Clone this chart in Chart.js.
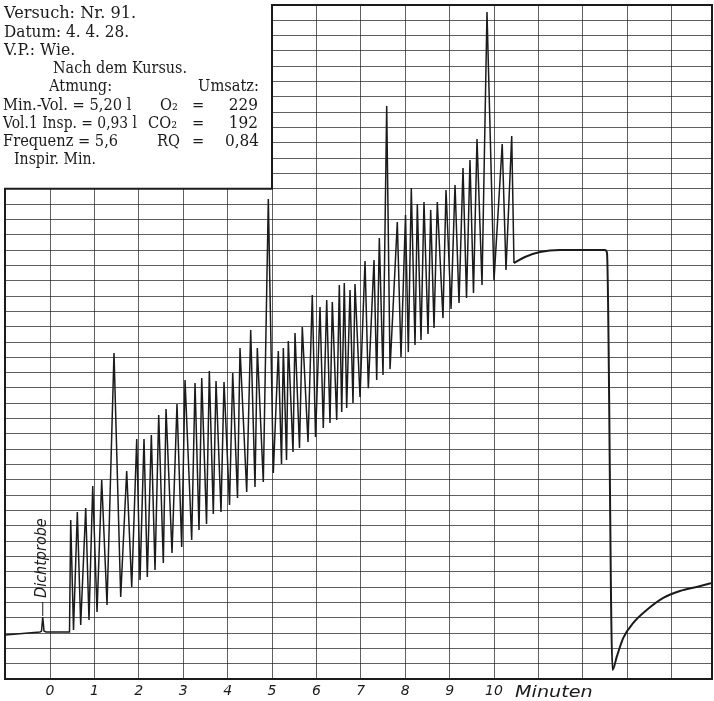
<!DOCTYPE html>
<html>
<head>
<meta charset="utf-8">
<script src="https://cdn.jsdelivr.net/npm/chart.js@4/dist/chart.umd.min.js"></script>
<style>
  html, body { margin: 0; padding: 0; background: #fff; }
  #wrap { position: relative; width: 714px; height: 701px; }
</style>
</head>
<body>
<div id="wrap"><canvas id="myChart"></canvas></div>
<script>
// axis: minutes on x, spirometer volume in grid divisions on y
const xMin = -1.014;
const xMax = 14.91;
const gridMinutes = [0, 1, 2, 3, 4, 5, 6, 7, 8, 9, 10, 11, 12, 13, 14];
const labelMinutes = [0, 1, 2, 3, 4, 5, 6, 7, 8, 9, 10];
const volTop = 44;
const lowerFrameTop = 32;   // the left part of the sheet stops here
const stepMinute = 5;

// resting line + "Dichtprobe" bump
const startMin = [-1.014, -0.225, -0.191, -0.164, -0.135, -0.09, 0.439];
const startVol = [2.87, 3.07, 3.13, 4.05, 3.13, 3.07, 3.07];

// top of each breath
const peakMin = [0.466, 0.615, 0.804, 0.962, 1.164, 1.441, 1.727, 1.953, 2.117, 2.282,
  2.448, 2.613, 2.860, 3.041, 3.266, 3.417, 3.588, 3.739, 3.919, 4.115,
  4.279, 4.520, 4.669, 4.917, 5.142, 5.255, 5.367, 5.518, 5.682, 5.907,
  6.081, 6.232, 6.358, 6.516, 6.628, 6.757, 6.869, 7.095, 7.297, 7.417,
  7.583, 7.822, 8.007, 8.137, 8.273, 8.423, 8.574, 8.723, 8.919, 9.122,
  9.302, 9.459, 9.617, 9.842, 10.185, 10.399];
const peakVol = [10.38, 10.90, 11.16, 12.60, 12.99, 21.28, 13.58, 15.67, 15.67, 15.93,
  17.23, 17.62, 17.95, 19.52, 19.32, 19.65, 20.10, 19.45, 19.39, 19.97,
  21.61, 22.78, 21.61, 31.33, 21.41, 21.61, 22.06, 22.58, 22.98, 25.07,
  24.28, 24.74, 24.61, 25.72, 25.85, 25.39, 25.78, 27.28, 27.35, 28.79,
  37.40, 29.83, 30.29, 32.05, 31.01, 31.14, 30.61, 31.14, 31.92, 32.25,
  33.36, 33.88, 35.25, 43.54, 34.92, 35.44];

// bottom after each breath
const troughMin = [0.529, 0.691, 0.878, 1.059, 1.284, 1.592, 1.840, 2.027, 2.191, 2.365,
  2.552, 2.748, 2.966, 3.191, 3.356, 3.525, 3.678, 3.851, 4.043, 4.223,
  4.430, 4.617, 4.804, 5.029, 5.214, 5.327, 5.473, 5.619, 5.811, 5.980,
  6.155, 6.306, 6.457, 6.570, 6.682, 6.824, 6.982, 7.169, 7.358, 7.500,
  7.658, 7.905, 8.070, 8.221, 8.356, 8.514, 8.649, 8.851, 9.032, 9.212,
  9.381, 9.538, 9.730, 10.000, 10.270, 10.450];
const troughVol = [3.20, 3.52, 3.85, 4.37, 4.83, 5.35, 6.01, 6.46, 6.66, 7.11,
  7.57, 8.22, 8.62, 9.07, 9.73, 10.12, 10.77, 10.90, 11.36, 11.81,
  12.21, 12.53, 12.86, 13.45, 14.03, 14.30, 14.82, 15.08, 15.47, 15.80,
  16.38, 16.71, 16.91, 17.43, 17.69, 18.02, 18.41, 18.99, 19.52, 19.84,
  20.23, 21.02, 21.34, 21.80, 22.13, 22.52, 22.91, 23.56, 24.15, 24.54,
  24.87, 25.20, 25.72, 26.04, 26.70, 27.15];

// plateau, drop and refill at the end
const endMin = [10.698, 11.036, 11.486, 12.50, 12.545, 12.669, 12.764, 12.912, 13.137, 13.439, 13.813, 14.189, 14.565, 14.91];
const endVol = [27.55, 27.87, 28.00, 28.00, 27.81, 0.59, 1.44, 2.68, 3.66, 4.50, 5.29, 5.74, 6.01, 6.27];

const breathing = startMin.map((m, i) => ({ x: m, y: startVol[i] }));
for (let i = 0; i < peakMin.length; i++) {
  breathing.push({ x: peakMin[i], y: peakVol[i] });
  breathing.push({ x: troughMin[i], y: troughVol[i] });
}
const last = troughMin.length - 1;
const ending = [{ x: troughMin[last], y: troughVol[last] }]
  .concat(endMin.map((m, i) => ({ x: m, y: endVol[i] })));

const ink = '#1b1b1b';
const gridColor = 'rgba(35,35,35,0.72)';

// old print type is narrower than DejaVu, squeeze it (maxW = width on the print)
function narrowText(ctx, text, x, y, align, k, maxW) {
  ctx.save();
  ctx.translate(x, y);
  ctx.scale(k, 1);
  ctx.textAlign = align;
  if (maxW) ctx.fillText(text, 0, 0, maxW / k);
  else ctx.fillText(text, 0, 0);
  ctx.restore();
}

const paperPlugin = {
  id: 'paper',
  beforeDatasetsDraw(chart) {
    const ctx = chart.ctx;
    const a = chart.chartArea;
    const x = chart.scales.x, y = chart.scales.y;
    const sx = x.getPixelForValue(stepMinute);
    const sy = y.getPixelForValue(lowerFrameTop);
    ctx.save();
    // blank corner for the protocol text
    ctx.fillStyle = '#fff';
    ctx.fillRect(0, 0, sx - 0.5, sy - 0.5);
    // stepped frame
    ctx.strokeStyle = ink;
    ctx.lineWidth = 2;
    ctx.beginPath();
    ctx.moveTo(a.left, a.bottom);
    ctx.lineTo(a.left, sy);
    ctx.lineTo(sx, sy);
    ctx.lineTo(sx, a.top);
    ctx.lineTo(a.right, a.top);
    ctx.lineTo(a.right, a.bottom);
    ctx.closePath();
    ctx.stroke();

    // protocol
    ctx.fillStyle = ink;
    ctx.font = '17px "DejaVu Serif"';
    ctx.textBaseline = 'alphabetic';
    const rows = [
      ['Versuch: Nr. 91.', 4, 18, 'left', 0.95, 145],
      ['Datum: 4. 4. 28.', 4, 36.5, 'left', 0.9, 140],
      ['V.P.: Wie.', 4, 55, 'left', 0.92, 82],
      ['Nach dem Kursus.', 53, 73, 'left', 0.86, 134],
      ['Atmung:', 49, 91, 'left', 0.86, 68], ['Umsatz:', 259, 91, 'right', 0.86, 80],
      ['Min.-Vol. = 5,20 l', 3, 109.5, 'left', 0.86, 136],
      ['O₂', 160, 109.5, 'left', 0.86], ['=', 192, 109.5, 'left', 0.86], ['229', 258, 109.5, 'right', 0.9],
      ['Vol.1 Insp. = 0,93 l', 3, 127.5, 'left', 0.86, 134],
      ['CO₂', 148, 127.5, 'left', 0.86], ['=', 192, 127.5, 'left', 0.86], ['192', 258, 127.5, 'right', 0.9],
      ['Frequenz = 5,6', 3, 145.5, 'left', 0.86, 118],
      ['RQ', 157, 145.5, 'left', 0.86], ['=', 192, 145.5, 'left', 0.86], ['0,84', 259, 145.5, 'right', 0.9],
      ['Inspir. Min.', 14, 163.5, 'left', 0.86, 82]
    ];
    rows.forEach(r => narrowText(ctx, r[0], r[1], r[2], r[3], r[4], r[5]));
    ctx.restore();
  },
  afterDatasetsDraw(chart) {
    const ctx = chart.ctx;
    const x = chart.scales.x, y = chart.scales.y;
    ctx.save();
    ctx.fillStyle = ink;
    ctx.strokeStyle = ink;
    // label for the leak test bump
    const px = x.getPixelForValue(startMin[3]);
    const py = y.getPixelForValue(startVol[3]);
    ctx.lineWidth = 1;
    ctx.beginPath();
    ctx.moveTo(px, py - 1);
    ctx.lineTo(px, py - 15);
    ctx.stroke();
    ctx.translate(px + 3.5, py - 19);
    ctx.rotate(-Math.PI / 2);
    ctx.font = 'italic 15px "DejaVu Sans"';
    narrowText(ctx, 'Dichtprobe', 0, 0, 'left', 0.96);
    ctx.restore();

    // axis unit after the last number
    ctx.save();
    ctx.fillStyle = ink;
    ctx.font = 'italic 16px "DejaVu Sans"';
    narrowText(ctx, 'Minuten', x.getPixelForValue(10) + 21, chart.chartArea.bottom + 18, 'left', 1.2);
    ctx.restore();
  }
};

let myChart = document.getElementById('myChart').getContext('2d');
let spiroChart = new Chart(myChart, {
  type: 'scatter',
  data: {
    datasets: [{
      label: 'Atmung',
      data: breathing,
      showLine: true,
      borderColor: ink,
      borderWidth: 1.5,
      pointRadius: 0,
      tension: 0
    }, {
      label: 'Ende',
      data: ending,
      showLine: true,
      borderColor: ink,
      borderWidth: 2,
      pointRadius: 0,
      cubicInterpolationMode: 'monotone'
    }]
  },
  options: {
    responsive: true,
    maintainAspectRatio: false,
    animation: false,
    layout: { padding: { left: 5, top: 5, right: 2, bottom: 0 } },
    plugins: { legend: { display: false }, tooltip: { enabled: false } },
    scales: {
      x: {
        type: 'linear',
        min: xMin,
        max: xMax,
        afterBuildTicks: s => { s.ticks = gridMinutes.map(v => ({ value: v })); },
        afterFit: s => { s.height = 22; },
        border: { display: false },
        grid: { color: gridColor, lineWidth: 1, drawTicks: false },
        ticks: {
          autoSkip: false,
          maxRotation: 0,
          padding: 4,
          color: ink,
          font: { family: 'DejaVu Sans', size: 14, style: 'italic' },
          callback: v => labelMinutes.includes(v) ? String(v) : ''
        }
      },
      y: {
        type: 'linear',
        min: 0,
        max: volTop,
        afterFit: s => { s.width = 0; },
        border: { display: false },
        grid: { color: gridColor, lineWidth: 1, drawTicks: false },
        ticks: { display: false, stepSize: 1, maxTicksLimit: 100 }
      }
    }
  },
  plugins: [paperPlugin]
});
</script>
</body>
</html>
